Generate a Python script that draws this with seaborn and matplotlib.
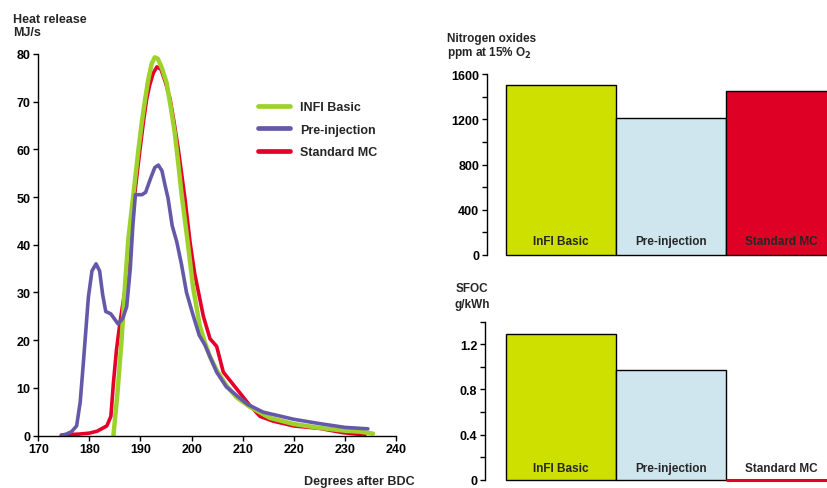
import numpy as np
import pandas as pd
import matplotlib
matplotlib.use("Agg")
import matplotlib.pyplot as plt
import seaborn as sns
from matplotlib.lines import Line2D
from matplotlib.ticker import MultipleLocator

# heat release curves (degrees after BDC, MJ/s)
infi_x = [184.7, 185.5, 186.3, 187.0, 187.6, 188.6, 189.6, 190.3, 190.9, 191.5, 192.2, 192.8,
          193.4, 194.2, 195.1, 195.9, 196.7, 197.4, 198.0, 199.3, 200.3, 201.6, 202.6, 203.6,
          205.0, 206.8, 208.8, 211.4, 215.3, 220.0, 225.0, 230.0, 233.0, 235.5]
infi_y = [0, 9, 20, 32, 41, 50.5, 60, 66, 70.5, 74.5, 78, 79.3,
          79, 77, 74, 69, 63.5, 57, 51, 40, 31, 23, 19.5, 16.5,
          13.5, 10.5, 8, 6, 3.7, 2.4, 1.6, 1.0, 0.8, 0.4]

pre_x = [174.5, 175.5, 176.5, 177.5, 178.2, 178.8, 179.3, 179.8, 180.5, 181.3, 182.0, 182.6,
         183.2, 184.2, 185.6, 186.5, 187.3, 188.0, 188.5, 189.0, 190.3, 191.0, 192.0, 192.8,
         193.5, 194.2, 194.8, 195.4, 196.2, 197.1, 198.0, 199.0, 200.3, 201.5, 202.6, 204.9,
         206.8, 208.8, 211.0, 214.0, 220.0, 225.0, 230.0, 234.5]
pre_y = [0, 0.3, 0.8, 2, 7, 15, 22, 29, 34.5, 36, 34.5, 29.5,
         26, 25.5, 23.4, 24.5, 27, 35, 44, 50.5, 50.5, 51, 54, 56.2,
         56.7, 55.5, 52.5, 49.7, 44, 40.6, 36, 30, 25.2, 21, 19, 13.3,
         10.2, 8.4, 6.5, 4.9, 3.4, 2.5, 1.7, 1.4]

std_x = [174.5, 176.0, 178.0, 180.0, 181.5, 183.4, 184.2, 184.7, 185.3, 186.0, 187.0, 188.0,
         188.8, 189.9, 190.6, 191.2, 191.8, 192.5, 193.2, 194.0, 194.9, 195.8, 196.6, 197.4,
         198.7, 199.7, 200.6, 202.3, 203.6, 204.9, 206.2, 208.8, 211.4, 213.4, 216.0, 220.0,
         225.0, 229.6, 233.9]
std_y = [0.1, 0.2, 0.3, 0.5, 0.9, 2.0, 4, 11, 18, 23.8, 30.8, 41,
         50, 60, 66, 70.5, 73.5, 76, 77.3, 76.8, 74, 70.5, 65.5, 60,
         49.7, 40.5, 34, 25, 20.3, 18.7, 13.3, 9.8, 6.3, 4.0, 3.0, 2.0,
         1.5, 0.6, 0.1]

# bar charts
bar_cats = ["InFI Basic", "Pre-injection", "Standard MC"]
nox_ppm = [1500, 1210, 1450]
sfoc_gkwh = [1.29, 0.97, 0.0]

legend_labels = ["INFI Basic", "Pre-injection", "Standard MC"]

GREEN = "#9dd12c"
PURPLE = "#6459a8"
RED = "#e4002b"
BAR_COLORS = ["#cde000", "#d0e6ef", "#de0025"]

sns.set_style("white")
plt.rcParams["font.family"] = ["Liberation Sans", "DejaVu Sans"]
plt.rcParams["font.weight"] = "bold"
plt.rcParams["xtick.direction"] = "out"
plt.rcParams["ytick.direction"] = "out"

fig = plt.figure(figsize=(8.28, 4.89), dpi=100)
W, H = 828.0, 489.0


def px_axes(left, top, right, bottom):
    return fig.add_axes([left / W, 1 - bottom / H, (right - left) / W, (bottom - top) / H])


def style_axes(ax):
    for s in ["top", "right"]:
        ax.spines[s].set_visible(False)
    for s in ["left", "bottom"]:
        ax.spines[s].set_color("black")
        ax.spines[s].set_linewidth(1.0)
    ax.tick_params(axis="both", which="both", length=3.5, width=1.0, color="black",
                   labelsize=9, labelcolor="black", pad=2, left=True, bottom=True)


# ---- heat release ----
ax = px_axes(38.3, 55, 396, 436.5)
style_axes(ax)
curves = pd.concat([
    pd.DataFrame({"deg": std_x, "hr": std_y, "series": "Standard MC"}),
    pd.DataFrame({"deg": infi_x, "hr": infi_y, "series": "InFI Basic"}),
    pd.DataFrame({"deg": pre_x, "hr": pre_y, "series": "Pre-injection"}),
])
widths = {"Standard MC": 2.6, "InFI Basic": 3.2, "Pre-injection": 2.6}
colors = {"Standard MC": RED, "InFI Basic": GREEN, "Pre-injection": PURPLE}
for name in ["Standard MC", "InFI Basic", "Pre-injection"]:
    sub = curves[curves["series"] == name]
    sns.lineplot(data=sub, x="deg", y="hr", color=colors[name], lw=widths[name],
                 ax=ax, sort=False, estimator=None, legend=False)
ax.set_xlim(170, 240)
ax.set_ylim(0, 80)
ax.set_xticks(range(170, 241, 10))
ax.set_yticks(range(0, 81, 10))
ax.set_xlabel("")
ax.set_ylabel("")

handles = [Line2D([], [], color=GREEN, lw=3.4),
           Line2D([], [], color=PURPLE, lw=3.4),
           Line2D([], [], color=RED, lw=3.4)]
ax.legend(handles, legend_labels, loc="upper left", bbox_to_anchor=(0.60, 0.89),
          frameon=False, fontsize=9, handlelength=2.6, handletextpad=0.8,
          labelspacing=0.85, borderaxespad=0)

fig.text(13 / W, 1 - 14 / H, "Heat release\nMJ/s", ha="left", va="top", fontsize=9,
         linespacing=1.15)
fig.text(415 / W, 1 - 482 / H, "Degrees after BDC", ha="right", va="center", fontsize=9)


def bar_panel(ax, values, ymax, major, minor, label_off):
    style_axes(ax)
    df = pd.DataFrame({"cat": bar_cats, "val": values})
    sns.barplot(data=df, x="cat", y="val", hue="cat", palette=BAR_COLORS, width=1.0,
                edgecolor="black", linewidth=1.0, legend=False, ax=ax, saturation=1)
    ax.spines["bottom"].set_visible(False)
    ax.tick_params(axis="x", bottom=False, labelbottom=False)
    ax.set_ylim(0, ymax)
    ax.yaxis.set_major_locator(MultipleLocator(major))
    ax.yaxis.set_minor_locator(MultipleLocator(minor))
    ax.set_xlabel("")
    ax.set_ylabel("")
    for p in ax.patches:
        p.set_clip_on(False)
    for i, c in enumerate(bar_cats):
        ax.annotate(c, (i, 0), xytext=(0, label_off), textcoords="offset points",
                    ha="center", va="center", fontsize=8.5, fontweight="bold",
                    annotation_clip=False)


# ---- NOx ----
ax2 = px_axes(487, 75, 828, 256)
bar_panel(ax2, nox_ppm, 1600, 400, 200, 10)
ax2.set_xlim(-0.5 - 19 / 110, -0.5 - 19 / 110 + 341 / 110)
fig.text(447 / W, 1 - 33 / H, "Nitrogen oxides\nppm at 15% O$_2$", ha="left", va="top",
         fontsize=8.5, linespacing=1.0)

# ---- SFOC ----
ax3 = px_axes(485, 322.7, 828, 480.7)
bar_panel(ax3, sfoc_gkwh, 1.4, 0.4, 0.2, 8.5)
ax3.yaxis.set_major_formatter(plt.FuncFormatter(lambda v, p: "0" if v == 0 else f"{v:.1f}"))
ax3.set_xlim(-0.5 - 21 / 110, -0.5 - 21 / 110 + 343 / 110)
zero_bar = ax3.patches[2]
zero_bar.set_edgecolor(RED)
zero_bar.set_linewidth(2.2)
zero_bar.set_zorder(5)
fig.text(472 / W, 1 - 283 / H, "SFOC\ng/kWh", ha="center", va="top", fontsize=8.5,
         linespacing=1.4)

fig.savefig("out.png", dpi=100)
